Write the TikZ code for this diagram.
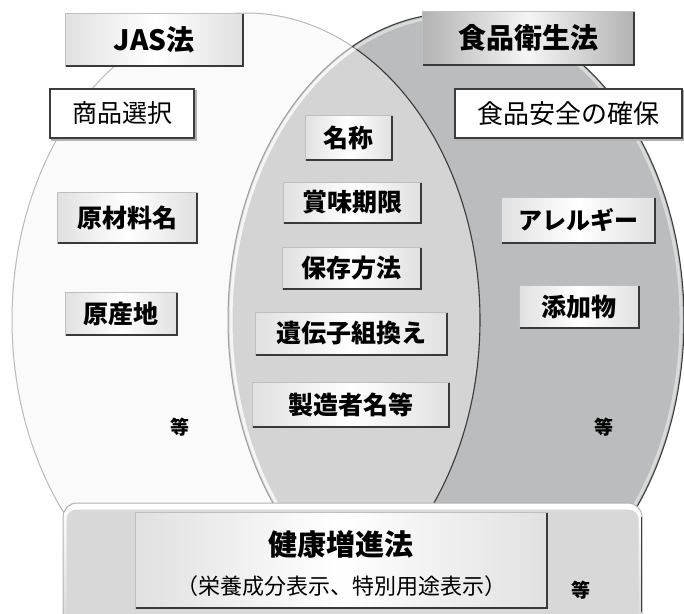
\documentclass[tikz,border=0pt]{standalone}
\usepackage{fontspec}
\setmainfont{Noto Sans CJK JP}
\usetikzlibrary{shadings}
\definecolor{lensgray}{RGB}{212,212,212}
\definecolor{rightgray}{RGB}{186,188,189}
\definecolor{leftwhite}{RGB}{250,250,250}
\definecolor{edgedark}{RGB}{60,60,60}
\definecolor{bottomgray}{RGB}{216,216,216}
\tikzset{
  bevbox/.style={rectangle, inner sep=0pt, draw=gray!50, line width=0.8pt,
    left color=gray!24, right color=gray!24, middle color=white,
    font=\bfseries\fontsize{24}{24}\selectfont},
  darkbev/.style={bevbox, left color=gray!60, right color=gray!60, middle color=gray!8,
    font=\bfseries\fontsize{28}{28}\selectfont},
  outbox/.style={rectangle, inner sep=0pt, draw=edgedark, line width=1.3pt, fill=white,
    font=\fontsize{25}{25}\selectfont},
  shadowline/.style={draw=gray!45!black, line width=2pt, line join=miter},
  etc/.style={font=\bfseries\fontsize{19}{19}\selectfont, inner sep=0pt}
}
\begin{document}
\begin{tikzpicture}[x=1pt,y=-1pt]
\useasboundingbox (0,0) rectangle (684,613);
\clip (0,0) rectangle (684,613);
% ellipses
\fill[leftwhite] (246,320) ellipse [x radius=234, y radius=307];
\fill[rightgray] (456,320) ellipse [x radius=228, y radius=307];
\begin{scope}
  \clip (246,320) ellipse [x radius=234, y radius=307];
  \fill[lensgray] (456,320) ellipse [x radius=228, y radius=307];
  \draw[white, line width=3pt, opacity=0.6] (456,320) ellipse [x radius=225, y radius=304];
  \draw[gray!75, line width=1pt] (456,320) ellipse [x radius=228, y radius=307];
\end{scope}
\draw[gray!55, line width=1pt] (246,320) ellipse [x radius=234, y radius=307];
\begin{scope}
  \clip (456,320) ellipse [x radius=228, y radius=307];
  \draw[edgedark, line width=1.1pt] (246,320) ellipse [x radius=234, y radius=307];
  \draw[white, line width=3pt, opacity=0.45] (456,320) ellipse [x radius=225, y radius=304];
\end{scope}
\begin{scope}[even odd rule]
  \clip (0,0) rectangle (684,613) (246,320) ellipse [x radius=234, y radius=307];
  \draw[edgedark, line width=1.1pt] (456,320) ellipse [x radius=228, y radius=307];
\end{scope}

% boxes, left
\node[bevbox, minimum width=178, minimum height=53, font=\bfseries\fontsize{28}{28}\selectfont] (jas) at (154,39.5) {JAS法};
\node[outbox, minimum width=144, minimum height=49] (shohin) at (122,113.5) {商品選択};
\node[bevbox, minimum width=140, minimum height=51, font=\bfseries\fontsize{25}{25}\selectfont] (genzai) at (127,217.5) {原材料名};
\node[bevbox, minimum width=112, minimum height=43, font=\bfseries\fontsize{25}{25}\selectfont] (gensan) at (121,313.5) {原産地};
\node[etc] (etcL) at (180,427) {等};

% right
\node[darkbev, minimum width=212, minimum height=54] (eisei) at (528,38) {食品衛生法};
\node[outbox, minimum width=227, minimum height=49, font=\fontsize{26}{26}\selectfont] (anzen) at (568.5,113.5) {食品安全の確保};
\node[bevbox, minimum width=154, minimum height=46, font=\bfseries\fontsize{24}{24}\selectfont] (allergy) at (578,220) {アレルギー};
\node[bevbox, minimum width=120, minimum height=43, font=\bfseries\fontsize{25}{25}\selectfont] (tenka) at (579,306.5) {添加物};
\node[etc] (etcR) at (604,427) {等};

% middle
\node[bevbox, minimum width=87, minimum height=45, font=\bfseries\fontsize{25}{25}\selectfont] (meisho) at (348.5,137.5) {名称};
\node[bevbox, minimum width=138, minimum height=41, font=\bfseries\fontsize{25}{25}\selectfont] (shomi) at (352,202.5) {賞味期限};
\node[bevbox, minimum width=139, minimum height=42, font=\bfseries\fontsize{25}{25}\selectfont] (hozon) at (351.5,268) {保存方法};
\node[bevbox, minimum width=192, minimum height=43, font=\bfseries\fontsize{25}{25}\selectfont] (idenshi) at (351,333.5) {遺伝子組換え};
\node[bevbox, minimum width=197, minimum height=45, font=\bfseries\fontsize{25}{25}\selectfont] (seizo) at (350.5,404.5) {製造者名等};

% bottom
\node[rectangle, rounded corners=14pt, minimum width=579, minimum height=124, inner sep=0pt,
  top color=white, bottom color=bottomgray, draw=gray!60, line width=1pt] (bottom) at (352.5,565) {};
\fill[bottomgray, rounded corners=10pt] ([shift={(4,7)}]bottom.north west) rectangle ([shift={(-4,-4)}]bottom.south east);
\node[bevbox, minimum width=412, minimum height=96] (kenko) at (341,560) {};
\node[font=\bfseries\fontsize{29}{29}\selectfont, inner sep=0pt] (kenkoT) at (341,544) {健康増進法};
\node[font=\fontsize{22}{22}\selectfont, inner sep=0pt] (kenkoS) at (341,586) {（栄養成分表示、特別用途表示）};
\node[etc] (etcB) at (581,590) {等};

% bevel shadows
\foreach \n in {jas,genzai,gensan,eisei,allergy,tenka,meisho,shomi,hozon,idenshi,seizo,kenko}
  \draw[shadowline] ([shift={(1,0)}]\n.south west) -- (\n.south east) -- ([shift={(0,1)}]\n.north east);
\foreach \n in {shohin,anzen}
  \draw[gray!60, line width=1.5pt] ([shift={(2,1.5)}]\n.south west) -- ([shift={(1.5,1.5)}]\n.south east) -- ([shift={(1.5,2)}]\n.north east);
\draw[gray!50!black, line width=1.5pt] ([shift={(-1,-16)}]bottom.south east) -- ([shift={(-1,14)}]bottom.north east);
\end{tikzpicture}
\end{document}
